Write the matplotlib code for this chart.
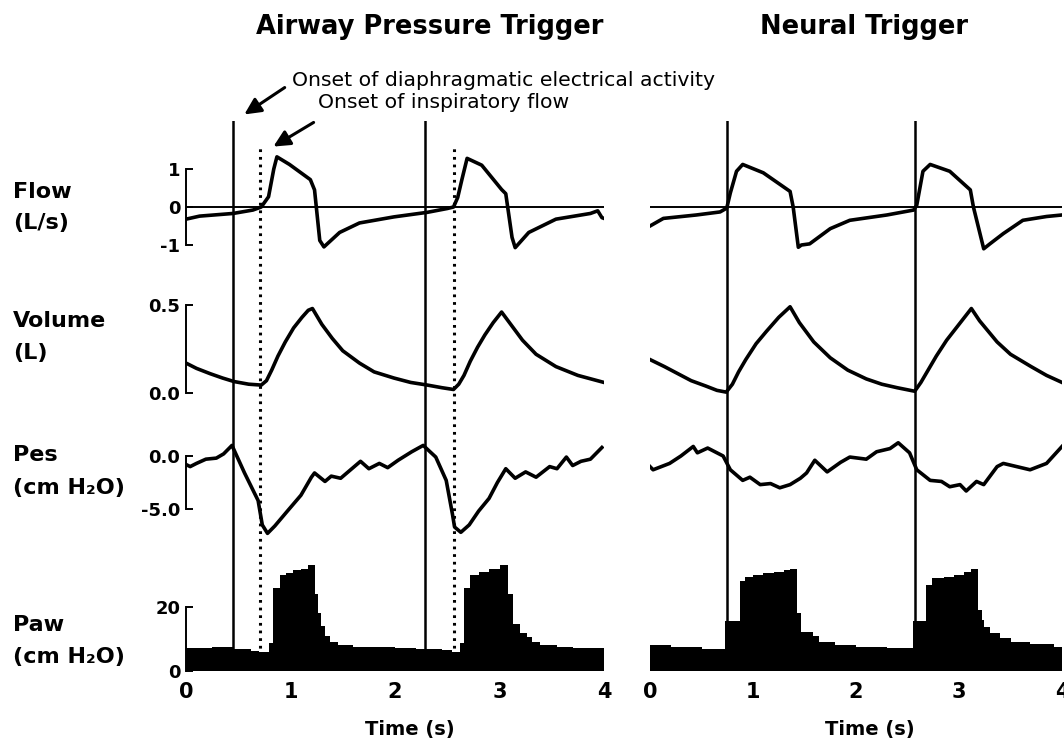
import matplotlib
matplotlib.use("Agg")
import matplotlib.pyplot as plt
import matplotlib.patches as mpatches

# ── Traces: airway pressure trigger (AP) vs neural trigger (NT) ──────────────
# Flow (L/s)
T_FLOW_AP = [0.0, 0.13, 0.45, 0.64, 0.72, 0.79, 0.84, 0.87, 0.99, 1.19, 1.23,
             1.28, 1.32, 1.47, 1.66, 1.99, 2.31, 2.50, 2.56, 2.60, 2.64, 2.69,
             2.83, 3.02, 3.06, 3.12, 3.15, 3.28, 3.54, 3.87, 3.94, 3.98, 4.0]
FLOW_AP = [-0.32, -0.24, -0.17, -0.08, 0.0, 0.27, 1.0, 1.32, 1.12, 0.72, 0.45,
           -0.88, -1.05, -0.67, -0.42, -0.26, -0.14, -0.04, 0.0, 0.25, 0.72, 1.28,
           1.1, 0.46, 0.35, -0.8, -1.07, -0.67, -0.32, -0.17, -0.1, -0.28, -0.3]

T_FLOW_NT = [0.0, 0.13, 0.45, 0.68, 0.745, 0.78, 0.84, 0.9, 1.1, 1.36, 1.39,
             1.44, 1.47, 1.55, 1.75, 1.94, 2.3, 2.56, 2.59, 2.65, 2.72, 2.91,
             3.11, 3.14, 3.24, 3.3, 3.43, 3.62, 3.85, 4.0]
FLOW_NT = [-0.5, -0.3, -0.21, -0.13, -0.03, 0.37, 0.94, 1.12, 0.9, 0.41, 0.0,
           -1.06, -1.0, -0.97, -0.57, -0.35, -0.21, -0.08, 0.05, 0.94, 1.12, 0.94,
           0.45, 0.0, -1.1, -0.97, -0.7, -0.35, -0.25, -0.21]

# Volume (L)
T_VOL_AP = [0.0, 0.1, 0.23, 0.35, 0.46, 0.6, 0.72, 0.77, 0.82, 0.88, 0.95, 1.03,
            1.11, 1.17, 1.21, 1.3, 1.4, 1.5, 1.66, 1.8, 1.99, 2.15, 2.31, 2.45,
            2.56, 2.61, 2.66, 2.72, 2.79, 2.86, 2.94, 3.02, 3.12, 3.22, 3.35,
            3.54, 3.75, 4.0]
VOL_AP = [0.17, 0.14, 0.11, 0.085, 0.065, 0.05, 0.045, 0.07, 0.13, 0.21, 0.29,
          0.37, 0.43, 0.47, 0.48, 0.39, 0.31, 0.24, 0.17, 0.12, 0.085, 0.06, 0.045,
          0.03, 0.02, 0.05, 0.1, 0.18, 0.26, 0.33, 0.40, 0.46, 0.38, 0.3, 0.22,
          0.15, 0.1, 0.06]

T_VOL_NT = [0.0, 0.14, 0.27, 0.4, 0.54, 0.65, 0.74, 0.8, 0.86, 0.93, 1.03, 1.13,
            1.25, 1.36, 1.45, 1.59, 1.75, 1.92, 2.1, 2.25, 2.4, 2.57, 2.63, 2.7,
            2.78, 2.88, 2.98, 3.12, 3.2, 3.37, 3.5, 3.7, 3.85, 4.0]
VOL_NT = [0.19, 0.15, 0.11, 0.07, 0.04, 0.015, 0.005, 0.05, 0.12, 0.19, 0.28,
          0.35, 0.43, 0.49, 0.40, 0.29, 0.2, 0.13, 0.08, 0.05, 0.03, 0.01, 0.06,
          0.13, 0.21, 0.3, 0.375, 0.48, 0.41, 0.29, 0.22, 0.15, 0.1, 0.06]

# Esophageal pressure (cm H2O)
T_PES_AP = [0.0, 0.04, 0.1, 0.19, 0.29, 0.36, 0.44, 0.56, 0.69, 0.73, 0.78, 0.85,
            0.97, 1.1, 1.2, 1.23, 1.33, 1.39, 1.48, 1.67, 1.75, 1.85, 1.93, 2.03,
            2.16, 2.27, 2.39, 2.49, 2.55, 2.57, 2.63, 2.71, 2.8, 2.9, 2.98, 3.06,
            3.15, 3.25, 3.35, 3.48, 3.55, 3.64, 3.7, 3.78, 3.87, 3.98]
PES_AP = [-0.8, -1.0, -0.7, -0.3, -0.2, 0.2, 1.0, -1.6, -4.2, -6.5, -7.3, -6.6,
          -5.2, -3.7, -2.0, -1.6, -2.4, -1.9, -2.1, -0.5, -1.2, -0.7, -1.1, -0.4,
          0.4, 1.0, -0.1, -2.3, -5.5, -6.7, -7.2, -6.5, -5.2, -4.0, -2.5, -1.2,
          -2.1, -1.5, -2.0, -1.0, -1.2, -0.1, -0.9, -0.5, -0.3, 0.8]

T_PES_NT = [0.0, 0.03, 0.19, 0.3, 0.42, 0.46, 0.56, 0.71, 0.78, 0.9, 0.97, 1.07,
            1.17, 1.26, 1.36, 1.46, 1.52, 1.6, 1.72, 1.85, 1.94, 2.1, 2.2, 2.33,
            2.41, 2.52, 2.59, 2.72, 2.83, 2.91, 3.01, 3.07, 3.17, 3.24, 3.37, 3.43,
            3.56, 3.69, 3.85, 4.0]
PES_NT = [-1.0, -1.3, -0.7, 0.0, 0.9, 0.3, 0.75, 0.0, -1.3, -2.3, -2.0, -2.7,
          -2.6, -3.0, -2.7, -2.1, -1.6, -0.4, -1.5, -0.6, -0.1, -0.3, 0.4, 0.7,
          1.25, 0.3, -1.3, -2.3, -2.4, -2.9, -2.7, -3.3, -2.4, -2.7, -1.0, -0.7,
          -1.0, -1.3, -0.7, 0.9]

# Airway pressure (cm H2O), sampled as steps
T_PAW_AP = [0.0, 0.25, 0.46, 0.62, 0.70, 0.79, 0.83, 0.90, 0.96, 1.02, 1.10,
            1.17, 1.23, 1.26, 1.29, 1.33, 1.38, 1.45, 1.6, 1.8, 2.0, 2.2, 2.31,
            2.45, 2.55, 2.62, 2.66, 2.72, 2.80, 2.90, 3.0, 3.08, 3.13, 3.20, 3.26,
            3.31, 3.39, 3.55, 3.7, 4.0]
PAW_AP = [7.2, 7.4, 6.8, 6.4, 5.8, 8.6, 26, 30, 30.5, 31.5, 32, 33, 24, 18, 14,
          11, 9, 8, 7.6, 7.4, 7.2, 7.0, 6.9, 6.7, 5.8, 8.6, 26, 30, 31, 32, 33,
          24, 14.6, 12, 10.5, 9, 8, 7.6, 7.3, 7.3]

T_PAW_NT = [0.0, 0.2, 0.5, 0.73, 0.87, 0.92, 1.0, 1.1, 1.2, 1.3, 1.36, 1.43,
            1.47, 1.58, 1.64, 1.8, 2.0, 2.3, 2.55, 2.68, 2.74, 2.85, 2.95, 3.05,
            3.12, 3.18, 3.22, 3.24, 3.3, 3.4, 3.5, 3.69, 3.92, 4.0]
PAW_NT = [8.2, 7.6, 6.9, 15.7, 28, 29.5, 30, 30.5, 31, 31.5, 32, 18, 12.3, 11,
          9, 8, 7.6, 7.3, 15.5, 27, 29, 29.5, 30, 31, 32, 19, 16, 13.8, 12, 10.4,
          9.1, 8.4, 7.6, 7.6]

# Event times (s): onset of diaphragm activity and onset of inspiratory flow
ONSET_EADI_AP = [0.45, 2.29]
ONSET_FLOW_AP = [0.71, 2.56]
ONSET_EADI_NT = [0.745, 2.57]

X_TICKS = [0, 1, 2, 3, 4]

# ── Layout (pixels) ──────────────────────────────────────────────────────────
W, H = 1064, 743
PANEL_X = {"ap": (186, 604), "nt": (650, 1062)}
# row: (pixel row of reference value, reference value, px per unit, ylim)
ROWS = {
    "flow": (207, 0.0, 38.0, (-1.6, 1.6)),
    "vol": (393, 0.0, 176.0, (-0.05, 0.55)),
    "pes": (456, 0.0, 10.6, (-8.5, 2.0)),
    "paw": (671, 0.0, 3.2, (0.0, 35.0)),
}
LW = 2.6

plt.rcParams["font.family"] = ["DejaVu Sans"]
plt.rcParams["font.weight"] = "bold"
plt.rcParams["axes.unicode_minus"] = False

fig = plt.figure(figsize=(W / 100, H / 100), dpi=100)
fig.patch.set_facecolor("white")


def px(x, y):
    return x / W, 1 - y / H


def make_axes(panel, row):
    x0, x1 = PANEL_X[panel]
    yref, ref, scale, (lo, hi) = ROWS[row]
    top = yref - (hi - ref) * scale
    bottom = yref + (ref - lo) * scale
    ax = fig.add_axes([x0 / W, 1 - bottom / H, (x1 - x0) / W, (bottom - top) / H])
    ax.set_xlim(0, 4)
    ax.set_ylim(lo, hi)
    ax.set_facecolor("none")
    for s in ax.spines.values():
        s.set_visible(False)
    ax.set_xticks([])
    ax.set_yticks([])
    return ax


def bracket(ax, ticks, labels):
    """Left spine drawn as a short bracket between the end ticks."""
    ax.spines["left"].set_visible(True)
    ax.spines["left"].set_linewidth(1.4)
    ax.spines["left"].set_bounds(min(ticks), max(ticks))
    ax.set_yticks(ticks)
    ax.set_yticklabels(labels)
    ax.tick_params(axis="y", direction="in", length=5, width=1.4, pad=4,
                   labelsize=13)


def onset_lines(panel, solid, dotted):
    x0, x1 = PANEL_X[panel]
    ov = fig.add_axes([x0 / W, 1 - 671 / H, (x1 - x0) / W, (671 - 121) / H])
    ov.set_xlim(0, 4)
    ov.set_ylim(671, 121)
    ov.axis("off")
    ov.set_zorder(5)
    for t in solid:
        ov.axvline(t, ymin=0, ymax=1, color="black", lw=1.8)
    for t in dotted:
        ov.axvline(t, ymin=0, ymax=(671 - 145) / (671 - 121), color="black",
                   lw=2.2, linestyle=(0, (0.9, 1.6)))


DATA = {
    "ap": [(T_FLOW_AP, FLOW_AP), (T_VOL_AP, VOL_AP), (T_PES_AP, PES_AP),
           (T_PAW_AP, PAW_AP)],
    "nt": [(T_FLOW_NT, FLOW_NT), (T_VOL_NT, VOL_NT), (T_PES_NT, PES_NT),
           (T_PAW_NT, PAW_NT)],
}

for panel in ("ap", "nt"):
    (tf, fl), (tv, vo), (tp, pe), (tw, pw) = DATA[panel]

    ax = make_axes(panel, "flow")
    ax.axhline(0, color="black", lw=1.4)
    ax.plot(tf, fl, color="black", lw=LW, solid_joinstyle="round")
    if panel == "ap":
        bracket(ax, [-1, 0, 1], ["-1", "0", "1"])

    ax = make_axes(panel, "vol")
    ax.plot(tv, vo, color="black", lw=LW, solid_joinstyle="round")
    if panel == "ap":
        bracket(ax, [0.0, 0.5], ["0.0", "0.5"])

    ax = make_axes(panel, "pes")
    ax.plot(tp, pe, color="black", lw=LW, solid_joinstyle="round")
    if panel == "ap":
        bracket(ax, [-5.0, 0.0], ["-5.0", "0.0"])

    ax = make_axes(panel, "paw")
    ax.fill_between(tw, 0, pw, step="post", color="black", lw=0)
    if panel == "ap":
        bracket(ax, [0, 20], ["0", "20"])
    ax.set_xticks(X_TICKS)
    ax.set_xticklabels([str(v) for v in X_TICKS])
    ax.tick_params(axis="x", length=0, pad=8, labelsize=15)

onset_lines("ap", ONSET_EADI_AP, ONSET_FLOW_AP)
onset_lines("nt", ONSET_EADI_NT, [])

# ── Texts ────────────────────────────────────────────────────────────────────
fig.text(*px(430, 27), "Airway Pressure Trigger", ha="center", va="center",
         fontsize=18.5)
fig.text(*px(864, 27), "Neural Trigger", ha="center", va="center", fontsize=18.5)

for label, y in [("Flow", 192), ("(L/s)", 223), ("Volume", 321), ("(L)", 353),
                 ("Pes", 455), ("(cm H₂O)", 488), ("Paw", 625),
                 ("(cm H₂O)", 657)]:
    fig.text(*px(13, y), label, ha="left", va="center", fontsize=16)

fig.text(*px(410, 730), "Time (s)", ha="center", va="center", fontsize=14)
fig.text(*px(870, 730), "Time (s)", ha="center", va="center", fontsize=14)

fig.text(*px(292, 81), "Onset of diaphragmatic electrical activity", ha="left",
         va="center", fontsize=14.7, fontweight="normal")
fig.text(*px(318, 103), "Onset of inspiratory flow", ha="left", va="center",
         fontsize=14.7, fontweight="normal")

for tail, head in [((287, 86), (242, 116)), ((316, 121), (271, 148))]:
    fig.add_artist(mpatches.FancyArrowPatch(
        px(*tail), px(*head), transform=fig.transFigure,
        arrowstyle="-|>,head_length=0.45,head_width=0.22", mutation_scale=22,
        lw=2.2, color="black"))

fig.savefig("out.png", dpi=100, facecolor="white")
